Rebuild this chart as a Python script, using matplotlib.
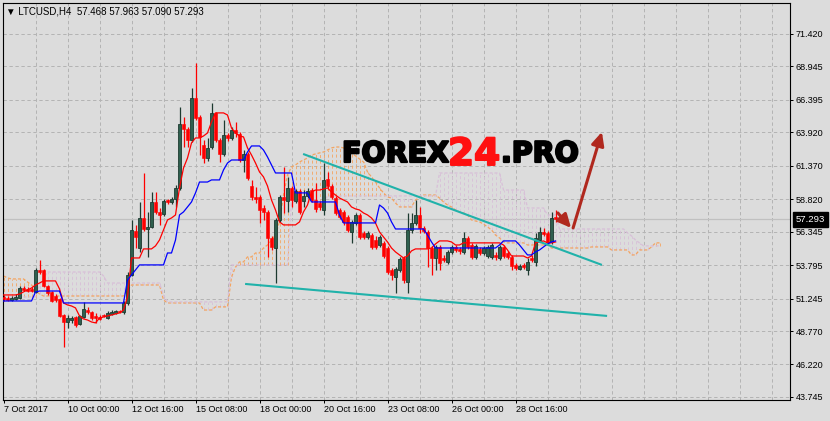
import matplotlib
matplotlib.use("Agg")
import matplotlib.pyplot as plt
import matplotlib.transforms as mtransforms
import matplotlib.patheffects as pe
import numpy as np

plt.rcParams['lines.scale_dashes'] = False
plt.rcParams['font.family'] = ['Liberation Sans', 'DejaVu Sans']

# ---------------- data (LTCUSD H4) ----------------
open_ = [51.37, 51.29, 51.14, 51.21, 51.29, 52.05, 51.98, 51.98, 51.75, 53.43,
         53.43, 52.21, 51.75, 51.44, 51.21, 49.99, 49.46, 49.61, 49.84, 49.31,
         49.84, 50.37, 50.22, 49.92, 49.84, 49.99, 49.76, 50.07, 50.15, 50.30,
         50.22, 50.91, 53.04, 56.40, 55.10, 57.39, 56.55, 56.71, 58.61, 57.85,
         57.70, 58.76, 58.61, 58.84, 59.68, 64.56, 64.18, 63.34, 66.54, 65.09,
         62.96, 61.96, 62.80, 65.40, 63.34, 62.27, 63.72, 63.49, 64.10, 63.79,
         61.81, 62.27, 59.83, 58.99, 58.99, 58.15, 57.85, 55.87, 55.10, 57.24,
         58.99, 58.69, 59.68, 58.69, 59.45, 58.69, 59.07, 59.52, 58.76, 58.53,
         58.00, 60.36, 59.83, 58.91, 58.00, 57.85, 57.47, 56.32, 57.01, 57.62,
         56.25, 55.94, 56.09, 55.71, 55.33, 55.49, 55.10, 53.43, 52.89, 53.43,
         54.34, 52.51, 56.48, 57.01, 57.62, 56.63, 56.32, 55.10, 54.34, 55.18,
         54.34, 54.04, 54.80, 55.18, 55.03, 54.80, 55.87, 55.33, 54.42, 55.03,
         54.72, 54.49, 54.42, 54.57, 54.34, 55.18, 54.72, 54.42, 53.81, 53.50,
         53.81, 53.43, 54.34, 54.04, 55.71, 56.32, 56.25, 55.56, 57.468]
high_ = [51.52, 51.44, 51.44, 51.59, 52.21, 52.21, 52.13, 52.13, 53.58, 54.19,
         53.50, 52.28, 51.82, 51.59, 51.29, 50.07, 49.99, 49.92, 49.92, 49.99,
         50.99, 50.61, 50.30, 50.15, 49.99, 50.07, 50.30, 50.37, 50.37, 50.37,
         51.06, 53.27, 57.24, 56.86, 58.61, 60.82, 57.85, 59.37, 59.37, 58.15,
         58.84, 58.84, 58.99, 59.91, 65.85, 65.09, 64.33, 67.30, 69.21, 65.24,
         63.34, 63.49, 66.16, 65.47, 63.49, 64.86, 63.87, 64.33, 64.71, 63.95,
         62.57, 62.42, 60.29, 59.75, 59.14, 58.38, 58.00, 56.02, 57.39, 59.14,
         61.28, 60.52, 59.83, 59.60, 59.60, 59.52, 59.68, 59.68, 60.06, 58.69,
         61.58, 60.90, 59.98, 59.07, 58.15, 58.00, 57.62, 57.24, 57.77, 57.77,
         56.40, 56.40, 56.25, 56.02, 56.09, 55.64, 55.26, 53.58, 53.65, 54.42,
         54.49, 57.77, 57.77, 58.76, 58.23, 56.78, 56.48, 55.26, 55.33, 55.33,
         54.57, 54.95, 55.33, 55.33, 55.18, 56.32, 56.02, 55.49, 55.41, 55.18,
         55.26, 55.33, 55.49, 54.80, 55.33, 55.33, 54.88, 54.57, 53.96, 53.88,
         53.96, 54.34, 54.57, 56.25, 56.71, 56.63, 56.40, 57.85, 57.963]
low_ = [51.06, 51.06, 51.06, 51.14, 51.21, 51.82, 51.75, 51.75, 51.67, 53.12,
        52.13, 51.52, 50.99, 50.99, 49.84, 47.55, 49.00, 49.39, 49.08, 49.23,
        49.76, 50.07, 49.61, 49.39, 49.61, 49.84, 49.69, 49.99, 50.07, 50.15,
        50.07, 50.76, 52.97, 55.10, 54.80, 56.40, 54.42, 56.63, 57.70, 56.86,
        57.54, 58.46, 58.46, 58.23, 59.52, 62.80, 62.80, 63.18, 64.86, 62.19,
        61.58, 61.74, 62.65, 63.18, 61.66, 62.12, 63.26, 63.34, 63.57, 61.66,
        60.90, 60.29, 58.76, 58.53, 57.01, 57.24, 54.42, 54.95, 52.43, 57.09,
        57.77, 57.85, 58.23, 58.53, 57.70, 58.23, 58.91, 58.61, 57.85, 58.00,
        57.62, 59.68, 58.84, 57.62, 57.32, 56.86, 56.32, 55.49, 56.86, 55.79,
        55.79, 55.79, 55.03, 55.03, 55.18, 54.34, 53.12, 52.66, 51.67, 53.27,
        52.43, 51.67, 56.25, 56.86, 56.25, 56.25, 53.65, 53.04, 53.43, 53.43,
        54.04, 53.88, 54.65, 54.80, 54.65, 54.65, 55.03, 54.27, 54.27, 54.57,
        54.57, 54.34, 54.27, 54.19, 54.19, 54.34, 54.27, 53.43, 53.43, 53.43,
        53.50, 53.04, 54.04, 53.73, 55.56, 56.02, 55.41, 55.41, 57.090]
close_ = [51.21, 51.14, 51.29, 51.37, 52.05, 51.90, 51.82, 51.82, 53.43, 53.27,
          52.21, 51.67, 51.06, 51.14, 49.92, 49.46, 49.76, 49.76, 49.23, 49.92,
          50.45, 50.22, 49.76, 49.76, 49.69, 49.92, 50.15, 50.22, 50.30, 50.22,
          50.91, 53.04, 56.48, 55.94, 57.39, 56.55, 56.71, 58.61, 57.85, 57.62,
          58.69, 58.61, 58.84, 59.68, 64.56, 64.18, 63.34, 66.54, 65.01, 63.57,
          61.96, 62.73, 65.40, 63.34, 62.27, 63.72, 63.49, 64.10, 63.87, 61.81,
          62.27, 60.44, 58.99, 58.84, 58.00, 57.85, 55.87, 55.18, 57.24, 58.99,
          58.76, 59.68, 58.76, 59.45, 57.85, 59.07, 59.45, 58.76, 58.08, 58.23,
          60.29, 59.83, 58.99, 57.77, 57.47, 57.09, 56.48, 57.09, 57.62, 55.94,
          55.94, 56.25, 55.18, 55.18, 55.94, 54.49, 53.27, 53.04, 53.50, 54.27,
          52.66, 56.48, 57.01, 57.62, 56.63, 56.40, 55.10, 54.34, 55.18, 53.96,
          54.19, 54.80, 55.18, 54.95, 54.88, 55.87, 55.18, 54.42, 55.26, 54.72,
          55.10, 55.18, 55.33, 54.42, 55.18, 54.49, 54.42, 53.73, 53.58, 53.73,
          53.65, 54.04, 54.19, 55.87, 56.32, 56.17, 55.56, 57.39, 57.293]

# Ichimoku lines
tenkan = [51.52, 51.52, 51.52, 51.52, 51.59, 51.75, 51.90, 52.05, 52.28, 52.43,
          52.59, 52.59, 52.59, 52.59, 51.98, 50.91, 50.76, 50.68, 50.53, 49.92,
          49.69, 49.61, 49.46, 49.39, 49.76, 49.84, 49.92, 49.99, 50.07, 50.15,
          50.37, 51.37, 54.34, 54.34, 54.34, 55.03, 55.03, 55.03, 55.26, 55.71,
          56.48, 57.24, 57.39, 57.62, 59.68, 61.20, 61.96, 63.11, 63.49, 63.49,
          63.64, 63.87, 64.71, 65.40, 65.40, 65.40, 65.24, 64.25, 63.87, 63.64,
          63.57, 62.73, 62.19, 61.58, 60.90, 60.52, 59.83, 58.76, 58.00, 57.09,
          56.86, 56.86, 56.86, 56.86, 57.09, 57.85, 58.38, 59.37, 59.52, 59.52,
          59.60, 59.68, 59.37, 59.14, 58.91, 58.76, 58.61, 58.23, 58.08, 58.00,
          57.77, 57.62, 57.39, 57.01, 56.32, 55.94, 55.56, 55.10, 54.80, 54.57,
          54.34, 54.49, 54.88, 55.03, 55.03, 55.03, 55.03, 55.10, 55.41, 55.64,
          55.64, 55.64, 55.56, 55.33, 55.33, 55.49, 55.49, 55.49, 55.49, 55.49,
          55.49, 55.49, 55.49, 55.49, 55.49, 55.33, 54.95, 54.49, 54.49, 54.49,
          54.49, 54.34, 54.49, 55.49, 55.56, 55.64, 55.49, 55.49, 55.56]
kijun = [51.06, 51.06, 51.06, 51.06, 51.06, 51.06, 51.06, 51.06, 51.75, 51.82,
         51.82, 51.82, 51.82, 51.82, 51.82, 50.91, 50.91, 50.91, 50.91, 50.91,
         50.91, 50.91, 50.91, 50.91, 50.91, 50.91, 50.91, 50.91, 50.91, 50.91,
         50.91, 52.66, 53.04, 53.43, 53.81, 53.81, 53.81, 53.81, 53.81, 53.81,
         53.81, 54.72, 54.72, 55.71, 57.62, 57.85, 58.23, 58.61, 59.30, 60.13,
         60.13, 60.13, 60.29, 60.29, 60.29, 61.05, 61.58, 61.81, 61.81, 61.81,
         61.81, 62.42, 62.88, 62.88, 62.88, 62.57, 62.04, 61.43, 60.82, 60.82,
         60.82, 60.82, 60.82, 59.30, 59.30, 59.30, 59.30, 58.61, 58.61, 58.61,
         58.61, 58.61, 58.61, 58.61, 57.62, 57.01, 57.01, 57.01, 57.01, 57.01,
         57.01, 57.01, 57.01, 57.01, 58.38, 58.15, 57.77, 57.09, 56.55, 56.55,
         56.55, 56.55, 56.55, 56.55, 56.55, 56.55, 56.09, 55.56, 55.10, 55.10,
         55.10, 55.10, 55.10, 55.10, 55.10, 55.10, 55.10, 55.10, 55.10, 55.10,
         55.10, 55.10, 55.10, 55.10, 55.33, 55.64, 55.64, 55.64, 55.64, 55.33,
         54.95, 54.57, 54.57, 54.80, 54.95, 55.18, 55.41, 55.56, 55.64]
senkou_a = [52.97, 52.82, 52.74, 52.74, 52.74, 52.74, 52.51, 52.28, 51.90, 51.59,
            51.44, 51.44, 51.44, 51.44, 51.44, 51.44, 51.44, 51.44, 51.44, 51.44,
            51.44, 51.44, 51.44, 51.44, 51.44, 51.44, 51.44, 51.44, 51.44, 51.44,
            51.44, 51.90, 52.28, 52.28, 52.28, 52.28, 52.28, 52.28, 52.28, 52.28,
            51.14, 50.91, 50.91, 50.91, 50.91, 50.91, 50.91, 50.91, 50.91, 50.91,
            50.37, 50.37, 50.37, 50.61, 50.61, 50.61, 50.61, 52.89, 53.65, 54.04,
            54.04, 54.42, 54.42, 54.72, 54.72, 55.10, 55.33, 55.71, 56.09, 57.09,
            59.14, 60.67, 61.28, 61.43, 61.66, 61.81, 61.96, 62.19, 62.27, 62.35,
            62.42, 62.57, 62.73, 62.80, 62.80, 62.73, 62.57, 62.35, 62.12, 61.89,
            61.66, 60.90, 60.52, 60.13, 59.68, 59.30, 58.99, 58.91, 58.53, 58.23,
            58.23, 58.23, 58.23, 58.76, 58.91, 59.14, 59.14, 59.14, 59.14, 58.91,
            58.61, 58.38, 58.23, 58.00, 57.85, 57.77, 57.62, 57.24, 57.16, 57.09,
            56.93, 56.71, 56.48, 56.09, 55.87, 55.56, 55.49, 55.49, 55.49, 55.49,
            55.49, 55.33, 55.33, 55.33, 55.33, 55.33, 55.33, 55.10, 55.10, 55.10,
            55.10, 55.10, 55.10, 55.10, 55.10, 55.10, 55.10, 55.18, 55.18, 55.18,
            55.18, 55.18, 54.95, 54.95, 54.95, 54.95, 54.95, 54.57, 54.57, 54.95,
            54.95, 54.95, 55.18, 55.49, 55.49]
senkou_b = [51.37, 51.37, 51.37, 51.37, 51.37, 51.37, 51.37, 51.37, 51.37, 52.28,
            52.82, 53.27, 53.27, 53.27, 53.27, 53.27, 53.27, 53.27, 53.27, 53.27,
            53.27, 53.27, 53.27, 53.27, 53.27, 52.97, 52.43, 52.43, 52.43, 52.43,
            52.43, 52.43, 52.43, 52.43, 52.43, 52.43, 52.43, 52.43, 52.43, 52.43,
            51.52, 50.99, 50.99, 50.99, 50.99, 50.99, 50.99, 50.99, 50.99, 50.99,
            50.99, 50.99, 50.99, 50.99, 50.99, 50.99, 50.99, 53.81, 53.81, 53.81,
            53.81, 53.81, 53.81, 53.81, 53.81, 53.81, 53.81, 53.81, 53.81, 53.81,
            53.81, 53.81, 58.61, 58.61, 58.61, 58.61, 58.61, 58.61, 58.61, 58.61,
            58.61, 59.07, 59.07, 59.07, 59.07, 59.07, 59.07, 59.07, 59.07, 59.07,
            59.07, 59.07, 59.07, 59.07, 59.07, 59.07, 59.07, 59.07, 59.07, 59.07,
            59.07, 59.07, 59.07, 59.07, 59.07, 59.07, 59.07, 59.07, 59.07, 60.82,
            60.82, 60.82, 60.82, 60.82, 60.82, 60.82, 60.82, 60.82, 60.82, 60.82,
            60.82, 60.82, 60.82, 60.82, 60.82, 59.52, 59.52, 59.52, 59.52, 59.52,
            59.52, 58.15, 58.15, 58.15, 58.15, 58.15, 57.62, 57.62, 57.62, 56.55,
            56.55, 56.55, 56.55, 56.55, 56.55, 56.55, 56.55, 56.55, 56.55, 56.55,
            56.55, 56.55, 56.55, 56.55, 56.55, 56.55, 56.25, 56.02, 55.71, 55.49,
            55.26, 55.26, 55.26, 55.26, 55.26]

# drawn trend lines (bar index, price) and arrows
upper_line_x = [74.9, 149.6]
upper_line_y = [62.27, 53.81]
lower_line_x = [60.4, 150.9]
lower_line_y = [52.36, 49.92]
small_arrow = [(138.6, 57.77), (141.9, 56.63)]
big_arrow = [(142.4, 56.63), (149.6, 63.95)]

price_ticks = [43.745, 46.220, 48.770, 51.245, 53.795, 56.345, 58.820,
               61.370, 63.920, 66.395, 68.945, 71.420]
date_tick_bars = [0, 16, 32, 48, 64, 80, 96, 112, 128]
date_labels = ['7 Oct 2017', '10 Oct 00:00', '12 Oct 16:00', '15 Oct 08:00',
               '18 Oct 00:00', '20 Oct 16:00', '23 Oct 08:00', '26 Oct 00:00',
               '28 Oct 16:00']
last_price = 57.293
title_text = '\u25bc LTCUSD,H4  57.468 57.963 57.090 57.293'

# ---------------- figure ----------------
BG = '#dcdcdc'
fig = plt.figure(figsize=(8.3, 4.21), dpi=100, facecolor=BG)
ax = fig.add_axes([3 / 830, 21 / 421, 787 / 830, 397 / 421], facecolor=BG)
ax.set_xlim(-0.125, 196.625)
ax.set_ylim(43.51, 73.78)

# grid
grid_kw = dict(color='#b4b4b4', lw=0.72, ls=(0, (2.4, 1.9)), zorder=0.5)
for v in price_ticks:
    ax.axhline(v, **grid_kw)
for gx in range(8, 197, 8):
    ax.axvline(gx, **grid_kw)

# last price line
ax.axhline(last_price, color='#c0c0c0', lw=0.9, zorder=0.8)

# Ichimoku cloud
ja = np.arange(len(senkou_a))
sa = np.array(senkou_a)
sb = np.array(senkou_b)
up = sa >= sb
hatch_ls = [(0, (2.2, 1.8))]
ax.vlines(ja[up], sb[up], sa[up], colors='#f4a460', lw=0.6,
          linestyles=hatch_ls, zorder=1)
ax.vlines(ja[~up], sa[~up], sb[~up], colors='#d8bfd8', lw=0.6,
          linestyles=hatch_ls, zorder=1)
ax.plot(ja, sa, color='#f4a460', lw=0.9, ls=(0, (2.2, 1.4)), zorder=1.2)
ax.plot(ja, sb, color='#d8bfd8', lw=0.9, ls=(0, (2.2, 1.4)), zorder=1.2)

# candles
o = np.array(open_); h = np.array(high_); l = np.array(low_); c = np.array(close_)
idx = np.arange(len(c))
bull = c >= o
bull_fill, bull_edge, bear = '#2f5f4e', '#1d3a30', '#ff0000'
ax.vlines(idx[bull], l[bull], h[bull], colors=bull_edge, lw=0.9, zorder=2)
ax.vlines(idx[~bull], l[~bull], h[~bull], colors=bear, lw=0.9, zorder=2)
body_bot = np.minimum(o, c)
body_h = np.maximum(np.abs(c - o), 0.08)
ax.bar(idx[bull], body_h[bull], bottom=body_bot[bull], width=0.75,
       color=bull_fill, edgecolor=bull_edge, lw=0.6, zorder=3)
ax.bar(idx[~bull], body_h[~bull], bottom=body_bot[~bull], width=0.7,
       color=bear, edgecolor=bear, lw=0.4, zorder=3)

# Tenkan / Kijun
ax.plot(np.arange(len(tenkan)), tenkan, color='#ff0000', lw=0.9, zorder=4)
ax.plot(np.arange(len(kijun)), kijun, color='#0000ff', lw=0.9, zorder=4)

# trend lines
ax.plot(upper_line_x, upper_line_y, color='#20b2aa', lw=1.5, zorder=5,
        solid_capstyle='butt')
ax.plot(lower_line_x, lower_line_y, color='#20b2aa', lw=1.5, zorder=5,
        solid_capstyle='butt')

# arrows
for (tail, tip) in (small_arrow, big_arrow):
    ax.annotate('', xy=tip, xytext=tail,
                arrowprops=dict(arrowstyle='-|>,head_length=0.8,head_width=0.38',
                                color='#b0281e', lw=2.2, shrinkA=0, shrinkB=0),
                zorder=7)

# axes / ticks
for s in ax.spines.values():
    s.set_color('black')
    s.set_linewidth(0.8)
ax.yaxis.tick_right()
ax.set_yticks(price_ticks)
ax.set_yticklabels([f'{v:.3f}' for v in price_ticks])
ax.set_xticks(date_tick_bars)
ax.set_xticklabels(date_labels)
for lab in ax.get_xticklabels():
    lab.set_horizontalalignment('left')
ax.tick_params(axis='y', direction='out', length=2.3, width=0.72, pad=2.0,
               labelsize=6.5, colors='black')
ax.tick_params(axis='x', direction='out', length=2.3, width=0.72, pad=1.5,
               labelsize=6.5, colors='black')

# last price label
trans = mtransforms.blended_transform_factory(ax.transAxes, ax.transData)
ax.text(1.0075, last_price, f'{last_price:.3f}', transform=trans,
        ha='left', va='center', fontsize=6.8, color='white', clip_on=False,
        bbox=dict(boxstyle='square,pad=0.3', fc='black', ec='black'), zorder=10)

# title
fig.text(6 / 830, 1 - 11 / 421, title_text, ha='left', va='center',
         fontsize=7, color='black')

# watermark logo
stroke_k = [pe.withStroke(linewidth=1.6, foreground='black')]
stroke_r = [pe.withStroke(linewidth=1.4, foreground='#ff1010')]
fig.text(342 / 830, 1 - 162 / 421, 'FOREX', ha='left', va='baseline',
         fontsize=20.5, fontweight='bold', family='DejaVu Sans', color='black',
         path_effects=stroke_k, zorder=8)
fig.text(448 / 830, 1 - 165 / 421, '24', ha='left', va='baseline',
         fontsize=27, fontweight='bold', family='DejaVu Sans', color='#ff1010',
         path_effects=stroke_r, zorder=8)
fig.text(501 / 830, 1 - 162 / 421, '.PRO', ha='left', va='baseline',
         fontsize=20.5, fontweight='bold', family='DejaVu Sans', color='black',
         path_effects=stroke_k, zorder=8)

fig.savefig('out.png', dpi=100, facecolor=BG)
